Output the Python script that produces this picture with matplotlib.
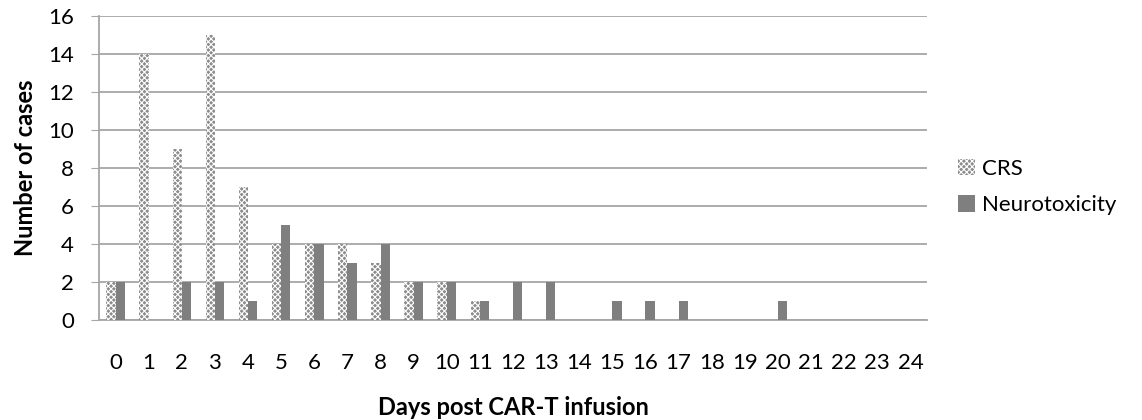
#!/usr/bin/env python3
"""Onset of CRS and neurotoxicity by day after CAR-T infusion."""

import matplotlib.pyplot as plt
import numpy as np

plt.rcParams["font.family"] = ["Lato", "DejaVu Sans"]
plt.rcParams["hatch.linewidth"] = 0.8

DAYS = list(range(25))
CRS = [2, 14, 9, 15, 7, 4, 4, 4, 3, 2, 2, 1, 0, 0, 0, 0, 0, 0, 0, 0, 0, 0, 0, 0, 0]
NEURO = [2, 0, 2, 2, 1, 5, 4, 3, 4, 2, 2, 1, 2, 2, 0, 1, 1, 1, 0, 0, 1, 0, 0, 0, 0]

GRID = "#a6a6a6"
BAR_W = 0.28


def main() -> None:
    fig = plt.figure(figsize=(11.42, 4.2), dpi=100)
    ax = fig.add_axes([99 / 1142, 1 - 320 / 420, 828 / 1142, 304 / 420])

    x = np.arange(len(DAYS))
    ax.bar(x - BAR_W / 2, CRS, BAR_W, facecolor="#8c8c8c", edgecolor="#ffffff",
           hatch="xxxxxx", linewidth=0, label="CRS", zorder=3)
    ax.bar(x + BAR_W / 2, NEURO, BAR_W, color="#7f7f7f", linewidth=0,
           label="Neurotoxicity", zorder=3)

    ax.set_xlim(-0.5, len(DAYS) - 0.5)
    ax.set_ylim(0, 16)
    ax.set_yticks(range(0, 17, 2))
    ax.set_xticks(x)
    ax.set_xticklabels([str(d) for d in DAYS])
    ax.grid(axis="y", color=GRID, linewidth=1.3, zorder=0)
    for side in ("top", "right"):
        ax.spines[side].set_visible(False)
    for side in ("left", "bottom"):
        ax.spines[side].set_color(GRID)
        ax.spines[side].set_linewidth(1.3)
    ax.tick_params(axis="y", length=6, color=GRID, labelsize=16, pad=12)
    ax.tick_params(axis="x", length=0, labelsize=16, pad=24)

    ax.set_xlabel("Days post CAR-T infusion", fontsize=17, fontweight="bold", labelpad=16)
    ax.set_ylabel("Number of cases", fontsize=17, fontweight="bold", labelpad=8)

    ax.legend(loc="center left", bbox_to_anchor=(958 / 1142, 1 - 187 / 420),
              bbox_transform=fig.transFigure, frameon=False, fontsize=16,
              handlelength=0.75, handleheight=0.75, handletextpad=0.35,
              labelspacing=0.75, borderpad=0, borderaxespad=0)

    fig.savefig("out.png", dpi=100)
    plt.close(fig)


if __name__ == "__main__":
    main()
